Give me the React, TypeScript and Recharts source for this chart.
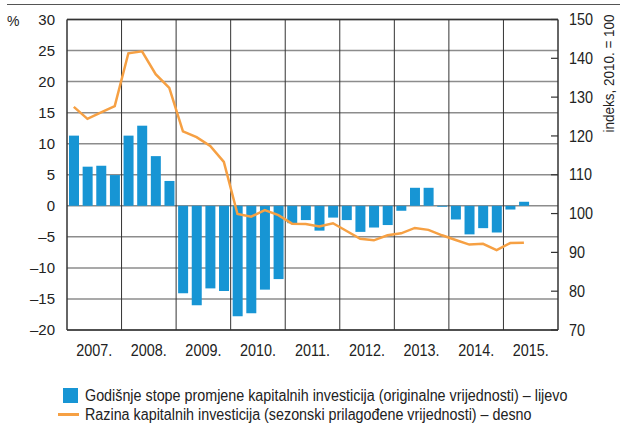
import {
  ComposedChart,
  Bar,
  Line,
  XAxis,
  YAxis,
  CartesianGrid,
  ReferenceLine,
} from "recharts";

const years = ["2007.", "2008.", "2009.", "2010.", "2011.", "2012.", "2013.", "2014.", "2015."];

// quarterly, 2007 Q1 .. 2015 Q2
const growth = [
  11.3, 6.3, 6.45, 4.95, 11.3, 12.9, 8.0, 4.0, -14.1, -16.0, -13.3, -13.7, -17.8, -17.3, -13.5,
  -11.8, -2.8, -2.3, -4.0, -1.9, -2.3, -4.2, -3.5, -3.1, -0.8, 2.9, 2.9, -0.15, -2.2, -4.6, -3.6,
  -4.3, -0.6, 0.65,
];

const level = [
  127.5, 124.4, 126.1, 127.7, 141.3, 141.8, 135.9, 132.4, 121.2, 119.7, 117.4, 113.3, 99.9, 99.2,
  100.9, 99.6, 97.4, 97.3, 96.7, 97.5, 95.5, 93.5, 93.1, 94.4, 94.9, 96.3, 95.8, 94.4, 93.2, 92.0,
  92.2, 90.6, 92.4, 92.5,
];

const leftTicks = [-20, -15, -10, -5, 0, 5, 10, 15, 20, 25, 30];
const rightTicks = [70, 80, 90, 100, 110, 120, 130, 140, 150];

const legendLabels = [
  "Godišnje stope promjene kapitalnih investicija (originalne vrijednosti) – lijevo",
  "Razina kapitalnih investicija (sezonski prilagođene vrijednosti) – desno",
];

const FONT = "'Liberation Sans', Arial, sans-serif";
const BLUE = "#1795d4";
const ORANGE = "#f6a043";
const DARK = "#333";
const TEXT = "#222";

const data = growth.map((g, i) => ({ x: i + 0.5, growth: g, level: level[i] }));
const yearCenters = years.map((_, i) => i * 4 + 2);
const yearBounds = years.slice(1).map((_, i) => (i + 1) * 4);

const fmtLeft = (v: number) => (v < 0 ? `\u2013${-v}` : `${v}`);

// condensed look: horizontal squeeze around the anchor point
function YearTick(props: any) {
  const { x, y, payload } = props;
  return (
    <text
      transform={`translate(${x} ${y}) scale(0.9 1)`}
      dy="0.71em"
      textAnchor="middle"
      fill={TEXT}
      fontSize={16}
      fontFamily={FONT}
    >
      {years[(payload.value - 2) / 4]}
    </text>
  );
}

function RightTick(props: any) {
  const { x, y, payload } = props;
  return (
    <g>
      <line x1={x - 18} x2={x - 11} y1={y} y2={y} stroke={DARK} strokeWidth={1.2} />
      <text
        transform={`translate(${x} ${y}) scale(0.9 1)`}
        dy="0.355em"
        textAnchor="start"
        fill={TEXT}
        fontSize={16}
        fontFamily={FONT}
      >
        {payload.value}
      </text>
    </g>
  );
}

export default function App() {
  return (
    <div style={{ position: "absolute", left: 0, top: 0, width: 620, height: 426, background: "#fff" }}>
      <div
        style={{ position: "absolute", left: 7, right: 0, top: 4, borderTop: "1.5px solid #555" }}
      />
      <ComposedChart
        width={620}
        height={426}
        data={data}
        margin={{ top: 19.5, right: 0, bottom: 66, left: 0 }}
        style={{ fontFamily: FONT }}
      >
        <CartesianGrid
          yAxisId="left"
          vertical={false}
          stroke="#8c8c8c"
          strokeWidth={1.5}
        />
        {yearBounds.map((b) => (
          <ReferenceLine key={b} x={b} yAxisId="left" stroke={DARK} strokeWidth={1} />
        ))}
        <ReferenceLine y={30} yAxisId="left" stroke={DARK} strokeWidth={1.5} />
        <XAxis
          dataKey="x"
          type="number"
          domain={[0, 36]}
          ticks={yearCenters}
          axisLine={{ stroke: DARK, strokeWidth: 1.5 }}
          tickLine={false}
          tickSize={0}
          tickMargin={15}
          height={30}
          interval={0}
          tick={<YearTick />}
        />
        <YAxis
          yAxisId="left"
          domain={[-20, 30]}
          ticks={leftTicks}
          tickFormatter={fmtLeft}
          width={67}
          axisLine={{ stroke: DARK, strokeWidth: 1.5 }}
          tickLine={false}
          tickSize={0}
          tickMargin={12}
          interval={0}
          tick={{ fill: TEXT, fontSize: 15, fontFamily: FONT }}
          label={{
            content: ({ viewBox }: any) => (
              <text
                x={viewBox.x + 7}
                y={viewBox.y + 2}
                dy="0.355em"
                fill={TEXT}
                fontSize={14}
                fontFamily={FONT}
              >
                %
              </text>
            ),
          }}
        />
        <YAxis
          yAxisId="right"
          orientation="right"
          domain={[70, 150]}
          ticks={rightTicks}
          width={62}
          axisLine={{ stroke: DARK, strokeWidth: 1.5 }}
          tickLine={false}
          tickSize={0}
          tickMargin={11}
          interval={0}
          tick={<RightTick />}
          label={{
            content: ({ viewBox }: any) => {
              const cx = viewBox.x + viewBox.width - 6;
              const cy = viewBox.y + 54;
              return (
                <text
                  transform={`translate(${cx} ${cy}) rotate(-90) scale(0.9 1)`}
                  textAnchor="middle"
                  fill={TEXT}
                  fontSize={15}
                  fontFamily={FONT}
                >
                  indeks, 2010. = 100
                </text>
              );
            },
          }}
        />
        <Bar
          yAxisId="left"
          dataKey="growth"
          fill={BLUE}
          barSize={10}
          isAnimationActive={false}
        />
        <Line
          yAxisId="right"
          dataKey="level"
          stroke={ORANGE}
          strokeWidth={2.5}
          dot={false}
          activeDot={false}
          isAnimationActive={false}
        />
      </ComposedChart>
      <div
        style={{
          position: "absolute",
          left: 58,
          top: 386,
          fontFamily: FONT,
          fontSize: 16,
          color: TEXT,
          lineHeight: "19px",
          whiteSpace: "nowrap",
        }}
      >
        <div style={{ display: "flex", alignItems: "center" }}>
          <span style={{ display: "inline-block", width: 15, height: 15, background: BLUE, marginLeft: 5, marginRight: 7 }} />
          <span style={{ display: "inline-block", transform: "scaleX(0.895)", transformOrigin: "left center" }}>
            {legendLabels[0]}
          </span>
        </div>
        <div style={{ display: "flex", alignItems: "center" }}>
          <span style={{ display: "inline-block", width: 21, height: 3, background: ORANGE, marginRight: 6 }} />
          <span style={{ display: "inline-block", transform: "scaleX(0.895)", transformOrigin: "left center" }}>
            {legendLabels[1]}
          </span>
        </div>
      </div>
    </div>
  );
}
